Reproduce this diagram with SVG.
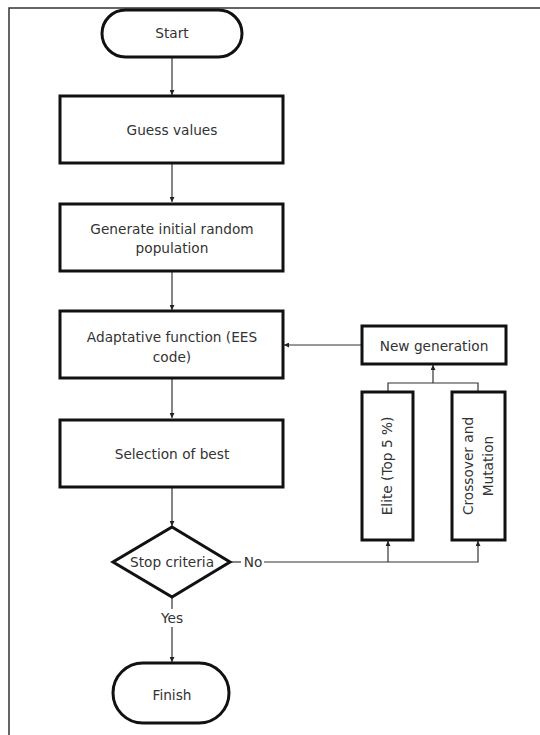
<svg xmlns="http://www.w3.org/2000/svg" width="540" height="735" viewBox="0 0 540 735">
<style>
.box{fill:#fff;stroke:#111;stroke-width:3}
.t{font-family:"DejaVu Sans",Verdana,sans-serif;font-size:13.7px;fill:#333;text-anchor:middle}
.c{fill:none;stroke:#333;stroke-width:1.2}
</style>
<defs>
<marker id="ah" viewBox="0 0 10 10" refX="10" refY="5" markerWidth="5" markerHeight="5" markerUnits="userSpaceOnUse" orient="auto">
<path d="M0,0 L10,5 L0,10 z" fill="#222"/>
</marker>
</defs>
<rect x="0" y="0" width="540" height="735" fill="#fff"/>
<rect x="9" y="8" width="540" height="740" fill="none" stroke="#333" stroke-width="1.5"/>
<g id="connectors">
<line class="c" x1="172" y1="58" x2="172" y2="95" marker-end="url(#ah)"/>
<line class="c" x1="172" y1="164" x2="172" y2="202" marker-end="url(#ah)"/>
<line class="c" x1="172" y1="272" x2="172" y2="310" marker-end="url(#ah)"/>
<line class="c" x1="172" y1="379" x2="172" y2="418" marker-end="url(#ah)"/>
<line class="c" x1="172" y1="488" x2="172" y2="526" marker-end="url(#ah)"/>
<line class="c" x1="172" y1="598" x2="172" y2="609"/>
<line class="c" x1="172" y1="627" x2="172" y2="662" marker-end="url(#ah)"/>
<line class="c" x1="361" y1="345" x2="284" y2="345" marker-end="url(#ah)"/>
<polyline class="c" points="388,391 388,383 478,383 478,391"/>
<line class="c" x1="433" y1="383" x2="433" y2="365" marker-end="url(#ah)"/>
<line class="c" x1="231" y1="562" x2="241" y2="562"/>
<polyline class="c" points="264,562 478,562 478,541" marker-end="url(#ah)"/>
<line class="c" x1="388" y1="562" x2="388" y2="541" marker-end="url(#ah)"/>
<text class="t" x="253" y="567">No</text>
<text class="t" x="172" y="623">Yes</text>
</g>
<g id="start">
<rect class="box" x="102" y="10" width="140" height="47" rx="23.5"/>
<text class="t" x="172" y="38">Start</text>
</g>
<g id="guess">
<rect class="box" x="60" y="96" width="223" height="67"/>
<text class="t" x="172" y="135">Guess values</text>
</g>
<g id="generate">
<rect class="box" x="60" y="204" width="223" height="67"/>
<text class="t" x="172" y="234">Generate initial random</text>
<text class="t" x="172" y="253">population</text>
</g>
<g id="adaptative">
<rect class="box" x="60" y="311" width="223" height="67"/>
<text class="t" x="172" y="342">Adaptative function (EES</text>
<text class="t" x="172" y="362">code)</text>
</g>
<g id="selection">
<rect class="box" x="60" y="420" width="223" height="67"/>
<text class="t" x="172" y="459">Selection of best</text>
</g>
<g id="stop">
<polygon class="box" points="172,527 230,562 172,597 113,562"/>
<text class="t" x="172" y="567">Stop criteria</text>
</g>
<g id="finish">
<rect class="box" x="113" y="663" width="116" height="60" rx="30"/>
<text class="t" x="172" y="700">Finish</text>
</g>
<g id="newgen">
<rect class="box" x="362" y="326" width="144" height="38"/>
<text class="t" x="434" y="351">New generation</text>
</g>
<g id="elite">
<rect class="box" x="362" y="392" width="51" height="148"/>
<text class="t" transform="translate(392,466) rotate(-90)">Elite (Top 5 %)</text>
</g>
<g id="crossover">
<rect class="box" x="452" y="392" width="53" height="148"/>
<text class="t" transform="translate(478,466) rotate(-90)"><tspan x="0" y="-5">Crossover and</tspan><tspan x="0" y="15">Mutation</tspan></text>
</g>
</svg>
